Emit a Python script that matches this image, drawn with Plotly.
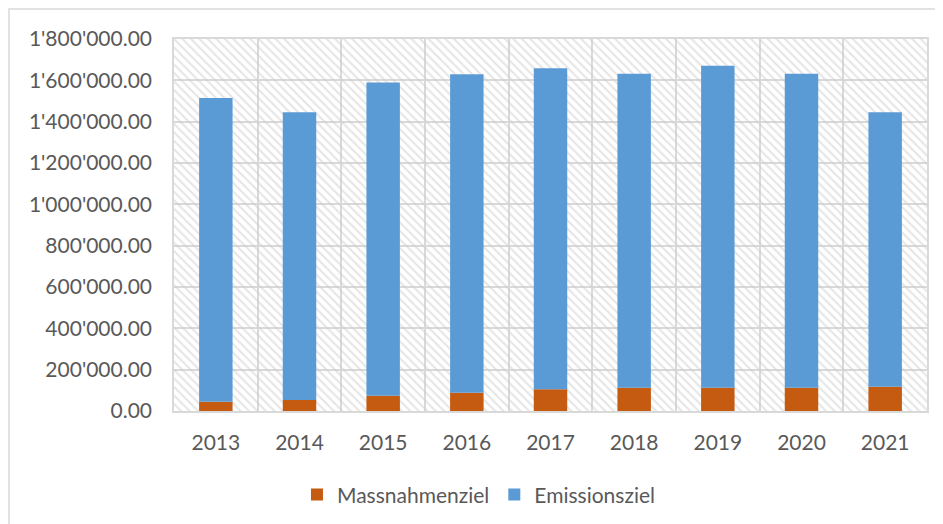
import plotly.graph_objects as go

years = ["2013", "2014", "2015", "2016", "2017", "2018", "2019", "2020", "2021"]
massnahmenziel = [45000, 53000, 74000, 88000, 105000, 113000, 113000, 113000, 117000]
emissionsziel = [1469000, 1392000, 1515000, 1541000, 1554000, 1519000, 1558000, 1519000, 1328000]
y_max = 1800000

FONT = "Lato"
TXT = "#595959"
GRID = "#D9D9D9"

W, H = 935, 516
ML, MR, MT, MB = 166, 16, 31, 113
PW, PH = W - ML - MR, H - MT - MB

fig = go.Figure()

# hatched plot-area background
fig.add_trace(go.Bar(
    x=years, y=[y_max] * len(years), width=1,
    marker=dict(color="rgba(0,0,0,0)", line=dict(width=0),
                pattern=dict(shape="\\", fgcolor="#CCCCCC", bgcolor="rgba(0,0,0,0)",
                             size=6, solidity=0.35)),
    showlegend=False, hoverinfo="skip",
))

fig.add_trace(go.Bar(
    x=years, y=massnahmenziel, name="Massnahmenziel", width=0.4,
    marker=dict(color="#C55A11", line=dict(width=0)),
))
fig.add_trace(go.Bar(
    x=years, y=emissionsziel, base=massnahmenziel, name="Emissionsziel", width=0.4,
    marker=dict(color="#5B9BD5", line=dict(width=0)),
))

fig.update_layout(
    width=W, height=H,
    barmode="overlay",
    separators=".'",
    paper_bgcolor="white", plot_bgcolor="white",
    margin=dict(l=ML, r=MR, t=MT, b=MB, autoexpand=False),
    font=dict(family=FONT, size=21, color=TXT),
    legend=dict(orientation="h", x=0.405, xanchor="center", y=-0.17, yanchor="top",
                font=dict(family=FONT, size=21, color=TXT), traceorder="normal",
                itemwidth=30),
    shapes=[dict(type="rect", xref="paper", yref="paper",
                 x0=-(ML - 1) / PW, x1=1.2, y0=-0.5, y1=1 + (MT - 1) / PH,
                 line=dict(color=GRID, width=1.5), fillcolor="rgba(0,0,0,0)", layer="below")],
)

fig.update_xaxes(
    type="category", tickson="boundaries", showgrid=True, gridcolor=GRID, gridwidth=1.5,
    ticks="", showline=True, linecolor=GRID, linewidth=1.5, mirror=True,
    ticklabelstandoff=12, tickfont=dict(family=FONT, size=21, color=TXT),
    range=[-0.5, 8.5],
)
fig.update_yaxes(
    range=[0, y_max], dtick=200000, tickformat=",.2f", showgrid=True, gridcolor=GRID,
    gridwidth=1.5, ticks="", showline=True, linecolor=GRID, linewidth=1.5, mirror=True,
    zeroline=False, ticklabelstandoff=16, tickfont=dict(family=FONT, size=21, color=TXT),
)

fig.write_html("out.html")
